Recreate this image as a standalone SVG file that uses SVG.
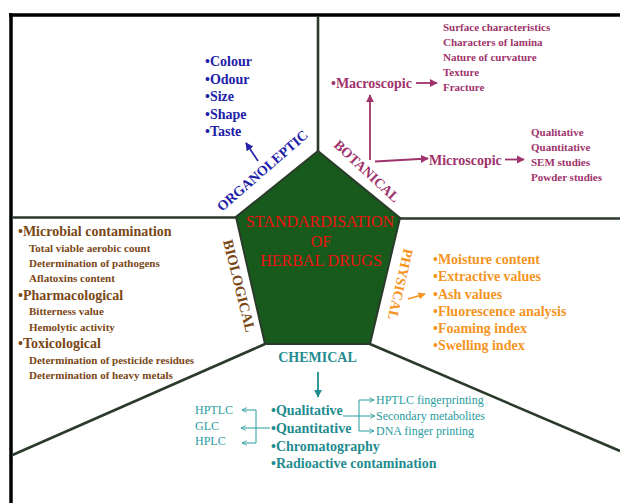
<svg xmlns="http://www.w3.org/2000/svg" width="620" height="503" viewBox="0 0 620 503">
<style>
text{font-family:"Liberation Serif","Times New Roman",serif;}
.b{font-weight:bold;}
.div{stroke:#2b3b2b;stroke-width:2.6;fill:none;}
.org{fill:#2121a8;}
.bot{fill:#a0336b;}
.phy{fill:#f5951f;}
.che{fill:#1f8c8f;}
.ches{fill:#2a9c9e;}
.bio{fill:#7a4716;}
.cen{fill:#ee1111;}
.a-org{stroke:#2121a8;stroke-width:1.6;fill:none;}
.a-bot{stroke:#a0336b;stroke-width:1.8;fill:none;}
.a-phy{stroke:#f5951f;stroke-width:1.6;fill:none;}
.a-che{stroke:#1f8c8f;stroke-width:1.8;fill:none;}
.a-ches{stroke:#2a9c9e;stroke-width:1;fill:none;}
</style>
<defs>
<marker id="m-org" viewBox="0 0 10 10" refX="9" refY="5" markerWidth="5" markerHeight="5" orient="auto"><path d="M0,0 L10,5 L0,10 z" fill="#2121a8"/></marker>
<marker id="m-bot" viewBox="0 0 10 10" refX="9" refY="5" markerWidth="4.5" markerHeight="4.5" orient="auto"><path d="M0,0 L10,5 L0,10 z" fill="#a0336b"/></marker>
<marker id="m-phy" viewBox="0 0 10 10" refX="9" refY="5" markerWidth="4.5" markerHeight="4.5" orient="auto"><path d="M0,0 L10,5 L0,10 z" fill="#f5951f"/></marker>
<marker id="m-che" viewBox="0 0 10 10" refX="9" refY="5" markerWidth="4.5" markerHeight="4.5" orient="auto"><path d="M0,0 L10,5 L0,10 z" fill="#1f8c8f"/></marker>
<marker id="m-ches" viewBox="0 0 10 10" refX="9" refY="5" markerWidth="6" markerHeight="6" orient="auto"><path d="M1,1 L9,5 L1,9" fill="none" stroke="#2a9c9e" stroke-width="1.4"/></marker>
</defs>
<rect x="0" y="0" width="620" height="503" fill="#ffffff"/>
<g id="frame">
<line x1="9" y1="15" x2="620" y2="15" stroke="#000" stroke-width="3.5"/>
<line x1="11" y1="13.3" x2="11" y2="503" stroke="#000" stroke-width="3.5"/>
<line class="div" x1="318" y1="16" x2="318" y2="151"/>
<line class="div" x1="12.5" y1="217.5" x2="236" y2="217.5"/>
<line class="div" x1="400" y1="218.5" x2="620" y2="218.5"/>
<line class="div" x1="265" y1="344" x2="12.5" y2="455"/>
<line class="div" x1="370" y1="344" x2="620" y2="451"/>
</g>
<g id="center">
<polygon points="318,151 236,217 265,344 370,344 400,218" fill="#175a1c" stroke="#2b3b2b" stroke-width="2"/>
<text class="cen" x="320" y="227" font-size="16" text-anchor="middle">STANDARDISATION</text>
<text class="cen" x="321" y="247" font-size="16" text-anchor="middle">OF</text>
<text class="cen" x="321" y="266" font-size="16" text-anchor="middle">HERBAL DRUGS</text>
</g>
<g id="organoleptic">
<text class="org b" font-size="14" transform="translate(222,212) rotate(-41)">ORGANOLEPTIC</text>
<text class="org b" font-size="14" x="205" y="66">•Colour</text>
<text class="org b" font-size="14" x="205" y="83.5">•Odour</text>
<text class="org b" font-size="14" x="205" y="101">•Size</text>
<text class="org b" font-size="14" x="205" y="118.5">•Shape</text>
<text class="org b" font-size="14" x="205" y="136">•Taste</text>
</g>
<g id="botanical">
<text class="bot b" font-size="14" transform="translate(333,146) rotate(43)">BOTANICAL</text>
<text class="bot b" font-size="14" x="331" y="88">•Macroscopic</text>
<text class="bot b" font-size="14" x="429" y="165">Microscopic</text>
<g font-size="11" class="bot b">
<text x="443" y="31">Surface characteristics</text>
<text x="443" y="46">Characters of lamina</text>
<text x="443" y="61">Nature of curvature</text>
<text x="443" y="76">Texture</text>
<text x="443" y="91">Fracture</text>
<text x="531" y="135.5">Qualitative</text>
<text x="531" y="150.5">Quantitative</text>
<text x="531" y="166">SEM studies</text>
<text x="531" y="181">Powder studies</text>
</g>
</g>
<g id="physical">
<text class="phy b" font-size="14" transform="translate(404,248) rotate(103)">PHYSICAL</text>
<g class="phy b" font-size="14">
<text x="433" y="263.5">•Moisture content</text>
<text x="433" y="281">•Extractive values</text>
<text x="433" y="298.5">•Ash values</text>
<text x="433" y="315.5">•Fluorescence analysis</text>
<text x="433" y="333">•Foaming index</text>
<text x="433" y="350">•Swelling index</text>
</g>
</g>
<g id="biological">
<text class="bio b" font-size="14.5" transform="translate(223,241) rotate(76)">BIOLOGICAL</text>
<g class="bio b">
<text x="18" y="236" font-size="14">•Microbial contamination</text>
<text x="29" y="251.5" font-size="11">Total viable aerobic count</text>
<text x="29" y="267" font-size="11">Determination of pathogens</text>
<text x="29" y="282" font-size="11">Aflatoxins content</text>
<text x="18" y="300" font-size="14">•Pharmacological</text>
<text x="29" y="315" font-size="11">Bitterness value</text>
<text x="29" y="330.5" font-size="11">Hemolytic activity</text>
<text x="18" y="348" font-size="14">•Toxicological</text>
<text x="29" y="363.5" font-size="11">Determination of pesticide residues</text>
<text x="29" y="379" font-size="11">Determination of heavy metals</text>
</g>
</g>
<g id="chemical">
<text class="che b" font-size="14" x="317.5" y="362" text-anchor="middle">CHEMICAL</text>
<g class="che b" font-size="14">
<text x="271" y="415">•Qualitative</text>
<text x="271" y="432.5">•Quantitative</text>
<text x="271" y="450.5">•Chromatography</text>
<text x="271" y="468">•Radioactive contamination</text>
</g>
<g class="ches" font-size="12">
<text x="195" y="414">HPTLC</text>
<text x="195" y="429.5">GLC</text>
<text x="195" y="445">HPLC</text>
<text x="376" y="404">HPTLC fingerprinting</text>
<text x="376" y="419.5">Secondary metabolites</text>
<text x="376" y="434.5">DNA finger printing</text>
</g>
</g>
<g id="connectors">
<line class="a-org" x1="258" y1="161" x2="246" y2="143" marker-end="url(#m-org)"/>
<line class="a-bot" x1="370" y1="160" x2="370" y2="95" marker-end="url(#m-bot)"/>
<line class="a-bot" x1="375" y1="161.5" x2="428" y2="158.5" marker-end="url(#m-bot)"/>
<line class="a-bot" x1="416" y1="83" x2="437" y2="83" marker-end="url(#m-bot)"/>
<line class="a-bot" x1="505" y1="159.5" x2="524" y2="159.5" marker-end="url(#m-bot)"/>
<line class="a-phy" x1="408" y1="299" x2="425" y2="294" marker-end="url(#m-phy)"/>
<line class="a-che" x1="318" y1="372" x2="318" y2="397" marker-end="url(#m-che)"/>
<line class="a-ches" x1="256" y1="410" x2="256" y2="443"/>
<line class="a-ches" x1="256" y1="410" x2="242" y2="410" marker-end="url(#m-ches)"/>
<line class="a-ches" x1="256" y1="443" x2="242" y2="443" marker-end="url(#m-ches)"/>
<line class="a-ches" x1="270" y1="428" x2="241" y2="428" marker-end="url(#m-ches)"/>
<line class="a-ches" x1="359" y1="400" x2="359" y2="431"/>
<line class="a-ches" x1="359" y1="400" x2="374" y2="400" marker-end="url(#m-ches)"/>
<line class="a-ches" x1="359" y1="431" x2="374" y2="431" marker-end="url(#m-ches)"/>
<line class="a-ches" x1="343" y1="416" x2="375" y2="416" marker-end="url(#m-ches)"/>
</g>
</svg>
